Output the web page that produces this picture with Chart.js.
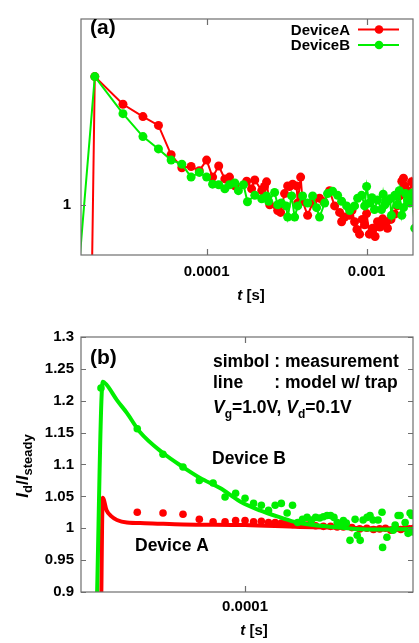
<!DOCTYPE html>
<html>
<head>
<meta charset="utf-8">
<script src="https://cdn.jsdelivr.net/npm/chart.js@4.4.1/dist/chart.umd.min.js"></script>
<style>
  body { margin: 0; background: #fff; }
  .box { position: absolute; left: 0; width: 419px; }
  #boxA { top: 0; height: 310px; }
  #boxB { top: 320px; height: 323px; }
</style>
</head>
<body>
<div class="box" id="boxA"><canvas id="chartA" width="419" height="310"></canvas></div>
<div class="box" id="boxB"><canvas id="chartB" width="419" height="323"></canvas></div>
<script>
const FONT = '"Liberation Sans", Arial, Helvetica, sans-serif';
const RED = '#ff0000';
const GREEN = '#00ee00';

// (a) measured transients, both devices
const timeA_a = [1.9e-5, 2.0e-5, 3.0e-5, 4.0e-5, 5.0e-5, 6.0e-5, 7.0e-5, 8.0e-5, 9.0e-5, 1.0e-4,
  1.09e-4, 1.19e-4, 1.30e-4, 1.39e-4, 1.50e-4, 1.78e-4, 1.91e-4, 2.0e-4, 2.21e-4, 2.30e-4,
  2.37e-4, 2.48e-4, 2.78e-4, 2.90e-4, 3.07e-4, 3.21e-4, 3.30e-4, 3.45e-4, 3.65e-4, 3.71e-4,
  3.87e-4, 3.98e-4, 4.28e-4, 4.60e-4, 5.08e-4, 5.40e-4, 5.87e-4, 6.31e-4, 6.78e-4, 6.98e-4,
  7.29e-4, 7.83e-4, 8.10e-4, 8.41e-4, 8.70e-4, 9.04e-4, 9.40e-4, 9.72e-4, 1.00e-3, 1.04e-3,
  1.09e-3, 1.13e-3, 1.17e-3, 1.21e-3, 1.26e-3, 1.30e-3, 1.35e-3, 1.42e-3, 1.50e-3, 1.55e-3,
  1.61e-3, 1.66e-3, 1.70e-3, 1.73e-3, 1.80e-3, 1.85e-3, 1.91e-3, 2.0e-3];
const devA_a = [0.80, 1.218, 1.171, 1.150, 1.135, 1.085, 1.063, 1.065, 1.058, 1.076,
  1.047, 1.066, 1.044, 1.047, 1.032, 1.040, 1.027, 1.042, 1.024, 1.031,
  1.039, 1.000, 0.990, 0.987, 1.019, 1.032, 1.031, 1.035, 1.032, 1.003,
  1.047, 1.006, 0.982, 1.003, 1.011, 1.005, 1.024, 0.998, 0.987, 0.971,
  0.979, 0.982, 0.990, 0.971, 0.958, 0.950, 0.975, 0.966, 0.985, 0.950,
  0.960, 0.946, 0.971, 0.962, 0.976, 0.968, 0.960, 0.975, 0.984, 0.998,
  1.015, 1.040, 1.045, 1.032, 1.024, 1.018, 1.039, 1.008];
const timeB_a = [1.6e-5, 2.0e-5, 3.0e-5, 4.0e-5, 5.0e-5, 6.0e-5, 7.0e-5, 8.0e-5, 9.0e-5, 1.0e-4,
  1.09e-4, 1.19e-4, 1.30e-4, 1.39e-4, 1.50e-4, 1.58e-4, 1.70e-4, 1.80e-4, 2.0e-4, 2.21e-4,
  2.37e-4, 2.44e-4, 2.66e-4, 2.78e-4, 2.93e-4, 3.14e-4, 3.21e-4, 3.40e-4, 3.55e-4, 3.71e-4,
  3.98e-4, 4.28e-4, 4.60e-4, 4.87e-4, 5.08e-4, 5.47e-4, 5.70e-4, 6.13e-4, 6.59e-4, 6.98e-4,
  7.50e-4, 7.83e-4, 8.41e-4, 8.79e-4, 9.31e-4, 9.72e-4, 1.00e-3, 1.04e-3, 1.08e-3, 1.12e-3,
  1.17e-3, 1.24e-3, 1.27e-3, 1.30e-3, 1.35e-3, 1.40e-3, 1.43e-3, 1.50e-3, 1.56e-3, 1.60e-3,
  1.66e-3, 1.70e-3, 1.75e-3, 1.80e-3, 1.86e-3, 1.93e-3, 2.0e-3];
const devB_a = [0.90, 1.218, 1.155, 1.116, 1.095, 1.076, 1.069, 1.047, 1.055, 1.047,
  1.035, 1.034, 1.027, 1.034, 1.037, 1.024, 1.034, 1.005, 1.016, 1.010,
  1.015, 1.006, 1.021, 1.000, 1.003, 0.998, 0.979, 1.015, 0.979, 0.998,
  1.015, 1.003, 1.015, 0.995, 0.979, 1.003, 1.019, 1.023, 1.016, 1.006,
  0.998, 0.990, 0.998, 1.011, 1.016, 0.998, 1.031, 1.003, 1.012, 0.992,
  1.008, 0.992, 1.018, 1.000, 1.006, 1.010, 0.982, 1.016, 1.000, 1.024,
  0.982, 0.995, 1.019, 1.008, 1.003, 1.020, 0.960];

// (b) measurement (symbols) and trap model (lines)
const timeA_meas = [3e-5, 4e-5, 5e-5, 6e-5, 7e-5, 8e-5, 9e-5, 1.0e-4, 1.1e-4, 1.2e-4,
  1.3e-4, 1.4e-4, 1.5e-4, 1.6e-4, 1.7e-4, 1.8e-4, 1.9e-4, 2.0e-4, 2.2e-4, 2.4e-4,
  2.6e-4, 2.8e-4, 3.0e-4, 3.3e-4, 3.6e-4, 3.9e-4, 4.2e-4, 4.5e-4, 4.8e-4, 5.1e-4,
  5.4e-4, 5.7e-4, 6.0e-4, 6.3e-4, 6.6e-4];
const devA_meas = [1.025, 1.024, 1.022, 1.014, 1.010, 1.010, 1.012, 1.012, 1.010, 1.011,
  1.009, 1.009, 1.008, 1.008, 1.006, 1.006, 1.005, 1.005, 1.004, 1.003,
  1.003, 1.002, 1.002, 1.001, 0.999, 1.000, 0.998, 0.999, 1.000, 0.997,
  1.000, 0.998, 1.000, 0.999, 1.000];
const timeB_meas = [2e-5, 3e-5, 4e-5, 5e-5, 6e-5, 7e-5, 8e-5, 9e-5, 1.0e-4, 1.1e-4,
  1.2e-4, 1.3e-4, 1.4e-4, 1.5e-4, 1.6e-4, 1.7e-4, 1.8e-4, 1.9e-4, 2.0e-4, 2.1e-4,
  2.2e-4, 2.3e-4, 2.4e-4, 2.5e-4, 2.6e-4, 2.7e-4, 2.8e-4, 2.9e-4, 3.0e-4, 3.1e-4,
  3.23e-4, 3.42e-4, 3.5e-4, 3.62e-4, 3.74e-4, 3.91e-4, 4.04e-4, 4.18e-4, 4.42e-4, 4.62e-4,
  4.65e-4, 4.88e-4, 5.23e-4, 5.35e-4, 5.53e-4, 5.65e-4, 5.98e-4, 6.18e-4, 6.32e-4, 6.45e-4,
  6.55e-4];
const devB_meas = [1.220, 1.156, 1.116, 1.096, 1.075, 1.071, 1.049, 1.055, 1.047, 1.039,
  1.036, 1.028, 1.036, 1.039, 1.024, 1.036, 1.009, 1.014, 1.017, 1.013,
  1.017, 1.016, 1.018, 1.020, 1.020, 1.017, 1.009, 1.005, 1.012, 1.008,
  0.981, 1.014, 0.989, 0.981, 1.013, 1.017, 1.020, 1.013, 1.013, 1.025,
  0.970, 0.986, 0.997, 1.005, 1.020, 1.020, 1.009, 0.992, 1.024, 1.020,
  0.994];
const timeA_model = [2.0e-5, 2.04e-5, 2.13e-5, 2.24e-5, 2.39e-5, 2.67e-5, 3.27e-5, 5.0e-5, 1.0e-4, 1.85e-4, 3.91e-4, 6.61e-4];
const devA_model = [0.85, 1.048, 1.028, 1.019, 1.013, 1.009, 1.008, 1.006, 1.005, 1.002, 1.000, 0.999];
const timeB_model = [1.90e-5, 2.04e-5, 2.13e-5, 2.39e-5, 2.67e-5, 3.09e-5, 4.0e-5, 5.0e-5, 6.05e-5,
  7.56e-5, 9.46e-5, 1.18e-4, 1.48e-4, 1.79e-4, 2.67e-4, 3.91e-4, 6.61e-4];
const devB_model = [0.85, 1.230, 1.225, 1.201, 1.181, 1.151, 1.118, 1.096, 1.079,
  1.063, 1.042, 1.028, 1.017, 1.009, 1.002, 0.998, 0.999];

// axes
const xTicksA = [2e-5, 3e-5, 4e-5, 5e-5, 6e-5, 7e-5, 8e-5, 9e-5, 1e-4, 2e-4, 3e-4, 4e-4, 5e-4, 6e-4, 7e-4, 8e-4, 9e-4, 1e-3];
const xLabelValsA = [1e-4, 1e-3];
const xLabelTxtA = ['0.0001', '0.001'];
const yTicksA = [0.95, 1, 1.05, 1.1, 1.15, 1.2, 1.25, 1.3];
const yLabelValsA = [1];
const yLabelTxtA = ['1'];
const xTicksB = [2e-5, 3e-5, 4e-5, 5e-5, 6e-5, 7e-5, 8e-5, 9e-5, 1e-4, 2e-4, 3e-4, 4e-4, 5e-4, 6e-4];
const xLabelValsB = [1e-4];
const xLabelTxtB = ['0.0001'];
const yTicksB = [0.9, 0.95, 1, 1.05, 1.1, 1.15, 1.2, 1.25, 1.3];
const yLabelTxtB = ['0.9', '0.95', '1', '1.05', '1.1', '1.15', '1.2', '1.25', '1.3'];

function pts(t, v) {
  return t.map((x, i) => ({ x, y: v[i] }));
}

function isDecade(v) {
  const l = Math.log10(v);
  return Math.abs(l - Math.round(l)) < 1e-9;
}

function pickLabel(v, vals, txt) {
  const i = vals.findIndex(u => Math.abs(u - v) / u < 1e-6);
  return i < 0 ? null : txt[i];
}

function runs(ctx, x, y, parts, align) {
  let w = 0;
  parts.forEach(p => { ctx.font = p.font + ' ' + FONT; w += ctx.measureText(p.text).width; });
  let cx = align === 'center' ? x - w / 2 : x;
  ctx.textAlign = 'left';
  parts.forEach(p => {
    ctx.font = p.font + ' ' + FONT;
    ctx.fillText(p.text, cx, y + (p.dy || 0));
    cx += ctx.measureText(p.text).width;
  });
}

function makeFrame(extra) {
  return {
    id: 'frame',
    afterDraw(chart) {
      const { ctx, chartArea: a } = chart;
      const { x, y } = chart.scales;
      ctx.save();
      ctx.strokeStyle = '#6e6e6e';
      ctx.lineWidth = 1.2;
      ctx.beginPath();
      x.ticks.forEach(t => {
        const px = Math.round(x.getPixelForValue(t.value)) + 0.5;
        const len = t.major ? 6 : 3.5;
        ctx.moveTo(px, a.bottom); ctx.lineTo(px, a.bottom - len);
        ctx.moveTo(px, a.top); ctx.lineTo(px, a.top + len);
      });
      y.ticks.forEach(t => {
        const py = Math.round(y.getPixelForValue(t.value)) + 0.5;
        ctx.moveTo(a.left, py); ctx.lineTo(a.left + 5, py);
        ctx.moveTo(a.right, py); ctx.lineTo(a.right - 5, py);
      });
      ctx.stroke();
      ctx.strokeRect(a.left, a.top, a.right - a.left, a.bottom - a.top);
      ctx.fillStyle = '#000';
      ctx.textBaseline = 'alphabetic';
      extra(ctx, chart);
      ctx.restore();
    }
  };
}

function axisX(min, max, tickVals, labVals, labTxt, height, pad) {
  return {
    type: 'logarithmic', min, max,
    afterBuildTicks: s => { s.ticks = tickVals.map(v => ({ value: v, major: isDecade(v) })); },
    afterFit: s => { s.height = height; },
    grid: { display: false, drawTicks: false },
    border: { display: false },
    ticks: {
      autoSkip: false, maxRotation: 0, padding: pad, color: '#000',
      font: { family: FONT, size: 15, weight: 'bold' },
      callback: v => pickLabel(v, labVals, labTxt)
    }
  };
}

function axisY(min, max, tickVals, labelFn, pad) {
  return {
    type: 'linear', min, max,
    afterBuildTicks: s => { s.ticks = tickVals.map(v => ({ value: v })); },
    afterFit: s => { s.width = 81; },
    grid: { display: false, drawTicks: false },
    border: { display: false },
    ticks: {
      autoSkip: false, padding: pad, color: '#000',
      font: { family: FONT, size: 15, weight: 'bold' },
      callback: labelFn
    }
  };
}

const common = {
  responsive: false,
  animation: false,
  devicePixelRatio: 1,
  events: [],
  plugins: { legend: { display: false }, tooltip: { enabled: false } }
};

function legendRow(ctx, label, color, y) {
  ctx.font = 'bold 15px ' + FONT;
  ctx.textAlign = 'right';
  ctx.fillStyle = '#000';
  ctx.fillText(label, 350, y + 5.3);
  ctx.strokeStyle = color;
  ctx.lineWidth = 2;
  ctx.beginPath(); ctx.moveTo(358, y); ctx.lineTo(399, y); ctx.stroke();
  ctx.fillStyle = color;
  ctx.beginPath(); ctx.arc(379, y, 4.3, 0, Math.PI * 2); ctx.fill();
}

// panel (a)
new Chart(document.getElementById('chartA'), {
  type: 'line',
  data: {
    datasets: [
      { data: pts(timeB_a, devB_a), borderColor: GREEN, backgroundColor: GREEN, borderWidth: 2,
        pointRadius: 4.5, pointBorderWidth: 0, tension: 0, clip: 0 },
      { data: pts(timeA_a, devA_a), borderColor: RED, backgroundColor: RED, borderWidth: 2,
        pointRadius: 4.5, pointBorderWidth: 0, tension: 0, clip: 0 }
    ]
  },
  options: Object.assign({}, common, {
    layout: { padding: { top: 5, right: 6, left: 0, bottom: 0 } },
    scales: {
      x: axisX(1.64e-5, 1.95e-3, xTicksA, xLabelValsA, xLabelTxtA, 55, 8),
      y: axisY(0.9145, 1.316, yTicksA, v => pickLabel(v, yLabelValsA, yLabelTxtA), 10)
    }
  }),
  plugins: [makeFrame(ctx => {
    ctx.font = 'bold 21px ' + FONT;
    ctx.textAlign = 'left';
    ctx.fillText('(a)', 90, 34);
    legendRow(ctx, 'DeviceA', RED, 29.5);
    legendRow(ctx, 'DeviceB', GREEN, 45);
    ctx.fillStyle = '#000';
    runs(ctx, 251, 300, [{ text: 't', font: 'italic bold 15px' }, { text: ' [s]', font: 'bold 15px' }], 'center');
  })]
});

// panel (b) -- text positions below are page coordinates, canvas starts at y = 320
new Chart(document.getElementById('chartB'), {
  type: 'line',
  data: {
    datasets: [
      { data: pts(timeB_meas, devB_meas), showLine: false, backgroundColor: GREEN, borderColor: GREEN,
        pointRadius: 3.8, pointBorderWidth: 0, clip: 0 },
      { data: pts(timeB_model, devB_model), borderColor: GREEN, borderWidth: 4, pointRadius: 0,
        cubicInterpolationMode: 'monotone', clip: 0 },
      { data: pts(timeA_meas, devA_meas), showLine: false, backgroundColor: RED, borderColor: RED,
        pointRadius: 3.8, pointBorderWidth: 0, clip: 0 },
      { data: pts(timeA_model, devA_model), borderColor: RED, borderWidth: 4, pointRadius: 0,
        cubicInterpolationMode: 'monotone', clip: 0 }
    ]
  },
  options: Object.assign({}, common, {
    layout: { padding: { top: 17, right: 6, left: 0, bottom: 0 } },
    scales: {
      x: axisX(1.6e-5, 6.53e-4, xTicksB, xLabelValsB, xLabelTxtB, 51, 6),
      y: axisY(0.9, 1.3, yTicksB, (v, i) => yLabelTxtB[i], 7)
    }
  }),
  plugins: [makeFrame(ctx => {
    ctx.translate(0, -320);
    ctx.font = 'bold 21px ' + FONT;
    ctx.textAlign = 'left';
    ctx.fillText('(b)', 90, 364);
    const f = 'bold 17.5px';
    ctx.font = f + ' ' + FONT;
    ctx.fillText('simbol : measurement', 213, 367);
    const colX = 213 + ctx.measureText('simbol ').width;
    ctx.fillText('line', 213, 388);
    ctx.fillText(': model w/ trap', colX, 388);
    runs(ctx, 213, 413, [
      { text: 'V', font: 'italic bold 17.5px' }, { text: 'g', font: 'bold 12px', dy: 5 },
      { text: '=1.0V, ', font: f },
      { text: 'V', font: 'italic bold 17.5px' }, { text: 'd', font: 'bold 12px', dy: 5 },
      { text: '=0.1V', font: f }
    ]);
    ctx.font = f + ' ' + FONT;
    ctx.fillText('Device B', 212, 464);
    ctx.fillText('Device A', 135, 550.5);
    runs(ctx, 254, 635, [{ text: 't', font: 'italic bold 15px' }, { text: ' [s]', font: 'bold 15px' }], 'center');
    ctx.save();
    ctx.translate(28, 466);
    ctx.rotate(-Math.PI / 2);
    runs(ctx, 0, 0, [
      { text: 'I', font: 'italic bold 17px' }, { text: 'd', font: 'bold 13px', dy: 4 },
      { text: '/', font: 'bold 17px' },
      { text: 'I', font: 'italic bold 17px' }, { text: 'steady', font: 'bold 13px', dy: 4 }
    ], 'center');
    ctx.restore();
  })]
});
</script>
</body>
</html>
